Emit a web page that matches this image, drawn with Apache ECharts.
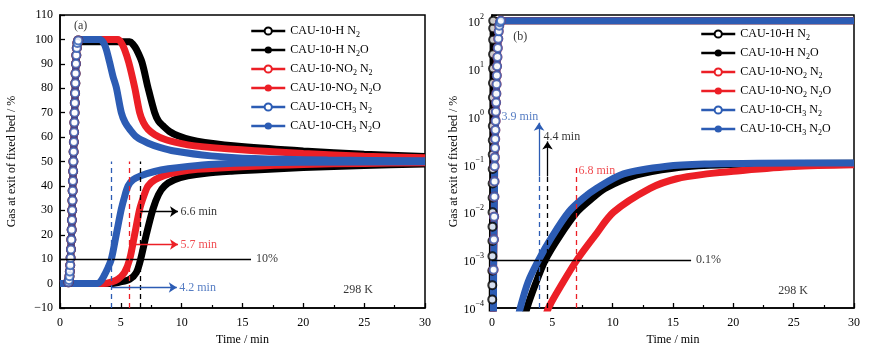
<!DOCTYPE html>
<html>
<head>
<meta charset="utf-8">
<script src="https://cdn.jsdelivr.net/npm/echarts@6/dist/echarts.min.js"></script>
<style>
html, body { margin: 0; padding: 0; background: #fff; }
#chart { width: 871px; height: 357px; }
</style>
</head>
<body>
<div id="chart"></div>
<script>
// series names (subscripts added by the legend formatter)
const names = ['CAU-10-H N2', 'CAU-10-H N2O', 'CAU-10-NO2 N2', 'CAU-10-NO2 N2O', 'CAU-10-CH3 N2', 'CAU-10-CH3 N2O']

// ---- panel (a): linear %, time in min ----
const riseA = [[0.70,0.5],[0.74,1.5],[0.78,3],[0.81,5],[0.84,7.5],[0.87,10.5],[0.9,14],[0.93,18],[0.96,22],[0.98,26],
  [1.0,30],[1.02,34],[1.04,38],[1.06,42],[1.08,46],[1.1,50],[1.12,54],[1.14,58],[1.16,62],[1.18,66],[1.2,70],
  [1.22,74],[1.24,78],[1.26,82],[1.28,86],[1.31,90],[1.34,93.5],[1.38,96.5],[1.43,98.5],[1.5,99.6]]
const hN2a = [[1.6,99],[5.73,99],[6.0,98],[6.27,96],[6.74,90.6],[7.23,80.3],[7.78,70],[8.1,66.5],[8.47,64.6],[9.0,62.3],
  [9.7,60.5],[10.7,58.9],[11.9,57.8],[14.9,56.1],[20,54.3],[25,53],[30,52]]
const no2N2a = [[1.6,100],[4.77,100],[5.05,98.5],[5.3,96],[5.65,90.6],[6.14,80.3],[6.55,70],[6.85,66],[7.23,63.2],[7.8,61],
  [8.6,59.1],[9.8,57.5],[11.07,56.4],[14.9,54.8],[20,53.3],[25,52.2],[30,51.5]]
const ch3N2a = [[1.6,100],[3.3,100],[3.6,98.5],[3.8,96],[4.08,90.6],[4.35,85],[4.63,80.3],[5.04,70],[5.35,66],[5.73,63.2],
  [6.3,60],[7.2,57.6],[8.2,55.8],[9.4,54.3],[12.4,52.3],[16,51.2],[22,50.6],[30,50.3]]
const hN2Oa = [[0,0],[4.2,0],[4.9,0.6],[5.73,1.8],[6.27,4.5],[6.63,10],[7.1,20.2],[7.64,30.5],[8.1,36.5],[8.6,40],
  [9.4,42.5],[10.5,44.1],[12,45.2],[14.1,46],[16,46.5],[20,47.5],[25,48.4],[30,49]]
const no2N2Oa = [[0,0],[3.6,0],[4.2,0.6],[4.77,1.8],[5.3,4.5],[5.73,10],[6.14,20.2],[6.55,30.5],[6.9,36],[7.23,40],
  [7.8,42.5],[8.6,44.3],[9.8,45.8],[11.3,46.8],[15.4,48],[20,48.8],[25,49.2],[30,49.5]]
const ch3N2Oa = [[0,0],[3.1,0],[3.35,1],[3.6,3],[3.9,6],[4.22,10],[4.63,20.2],[5.04,30.5],[5.3,35.5],[5.6,40],
  [6.0,42.5],[6.7,44.3],[7.7,45.8],[8.9,47],[10.5,48],[12.7,48.9],[16,49.5],[20,49.7],[30,49.9]]
const breakA = [6.6, 5.7, 4.2]   // H, NO2, CH3

// ---- panel (b): values on the log axis ----
const riseB = [[0.13,0.00063],[0.16,0.0027],[0.18,0.0081],[0.2,0.021],[0.21,0.044],[0.22,0.091],[0.235,0.14],[0.25,0.22],
  [0.265,0.34],[0.28,0.52],[0.3,0.81],[0.32,1.26],[0.34,1.95],[0.36,3.0],[0.38,4.7],[0.4,7.2],[0.42,11.2],[0.45,17.4],
  [0.48,27],[0.52,42],[0.56,60],[0.6,79],[0.66,93],[0.74,100]]
const riseHB = [[0.02,0.00015],[0.024,0.0003],[0.028,0.0006],[0.032,0.0012],[0.036,0.0025],[0.04,0.005],[0.044,0.01],
  [0.048,0.02],[0.052,0.04],[0.056,0.08],[0.06,0.16],[0.064,0.32],[0.068,0.63],[0.072,1.26],[0.076,2.5],[0.08,5],
  [0.084,10],[0.088,20],[0.092,40],[0.096,70],[0.1,100]]
const hN2b = [[0.015,0.00001],[0.1,100],[30,100]]
const no2N2b = [[0.12,0.00001],[0.13,0.00063],[0.74,100],[30,100]]
const ch3N2b = [[0.12,0.00001],[0.13,0.00063],[0.74,100],[30,100]]
const hN2Ob = [[2.5,0.00004],[2.9,0.0001],[3.6,0.000316],[4.41,0.001],[5.6,0.00316],[7.03,0.01],[8.2,0.0186],[9.37,0.0316],
  [12,0.0603],[15,0.0832],[18,0.0955],[22,0.102],[30,0.106]]
const no2N2Ob = [[4.3,0.00005],[4.68,0.0001],[5.8,0.000316],[7.03,0.001],[8.5,0.00316],[10.06,0.01],[13.1,0.0316],
  [15.3,0.0501],[18,0.064],[20,0.072],[25,0.09],[30,0.0977]]
const ch3N2Ob = [[2.0,0.00004],[2.34,0.0001],[3.0,0.000355],[3.86,0.001],[5.0,0.00316],[6.34,0.01],[7.5,0.0191],
  [8.68,0.0316],[10.9,0.0631],[14.5,0.0912],[18,0.102],[22,0.106],[30,0.107]]
const breakB = [4.6, 7.0, 3.9]   // dashed line positions, H, NO2, CH3
const breakLabelB = ['4.4 min', '6.8 min', '3.9 min']
const logTicks = [-4, -3, -2, -1, 0, 1, 2]

const FONT = 'Liberation Serif'
const BLACK = '#000000', RED = '#ec1f26', BLUE = '#2c5cb4'
const colors = [BLACK, RED, BLUE]

const lg = d => [d[0], Math.log10(d[1])]

// thick band = the densely packed markers of the original
function curve(name, color, gi, data, empty) {
  return {
    name, type: 'line', xAxisIndex: gi, yAxisIndex: gi, data,
    smooth: 0.3, showSymbol: false,
    symbol: empty ? 'emptyCircle' : 'circle', symbolSize: 8,
    itemStyle: { color, borderWidth: 1.1 },
    lineStyle: { color, width: 7 },
    emphasis: { disabled: true }, z: 2
  }
}
// the separate open circles on the steep N2 rise
function marks(color, gi, data) {
  return {
    type: 'scatter', xAxisIndex: gi, yAxisIndex: gi, data,
    symbol: 'emptyCircle', symbolSize: 8,
    itemStyle: { color, borderWidth: 1.1 }, silent: true, z: 3
  }
}

const series = []
const n2A = [hN2a, no2N2a, ch3N2a], n2OA = [hN2Oa, no2N2Oa, ch3N2Oa]
for (let i = 0; i < 3; i++) {
  series.push(curve(names[2*i], colors[i], 0, [[0,0]].concat(riseA, n2A[i]), true))
  series.push(curve(names[2*i+1], colors[i], 0, n2OA[i], false))
}
const n2B = [hN2b, no2N2b, ch3N2b], n2OB = [hN2Ob, no2N2Ob, ch3N2Ob]
const riseBs = [riseHB, riseB, riseB]
for (let i = 0; i < 3; i++) {
  const band = n2B[i].slice(0, -2).concat(riseBs[i], n2B[i].slice(-1))
  series.push(curve(names[2*i], colors[i], 1, band.map(lg), true))
  series.push(curve(names[2*i+1], colors[i], 1, n2OB[i].map(lg), false))
}
for (let i = 0; i < 3; i++) {
  series.push(marks(colors[i], 0, riseA))
  series.push(marks(colors[i], 1, riseBs[i].map(lg)))
}

// annotation lines
function seg(a, b, color, type, arrow) {
  return [{ coord: a, symbol: 'none', lineStyle: { color, type, width: 1.3 } },
          { coord: b, symbol: arrow ? 'arrow' : 'none' }]
}
const linesA = [seg([0,10],[15.7,10], BLACK, 'solid')]
const arrowYA = [29.5, 16, -1.6], arrowEndA = [9.7, 9.7, 9.6]
breakA.forEach((t, i) => {
  linesA.push(seg([t,-10],[t,50], colors[i], [5,4]))
  linesA.push(seg([t,arrowYA[i]],[arrowEndA[i],arrowYA[i]], colors[i], 'solid', true))
})
const linesB = [seg([0,-3],[16.5,-3], BLACK, 'solid')]
const dashTopB = [-1.25, -1.05, -1.25], arrowTopB = [-0.52, null, -0.13]
breakB.forEach((t, i) => {
  linesB.push(seg([t,-4],[t,dashTopB[i]], colors[i], [5,4]))
  if (arrowTopB[i] !== null) linesB.push(seg([t,dashTopB[i]],[t,arrowTopB[i]], colors[i], 'solid', true))
})
function lineLayer(gi, data) {
  return { type: 'line', xAxisIndex: gi, yAxisIndex: gi, data: [], z: 5, silent: true,
    markLine: { silent: true, animation: false, symbolSize: 8, label: { show: false }, data } }
}
series.push(lineLayer(0, linesA), lineLayer(1, linesB))

// annotation texts
function txt(pos, text, color, align) {
  return { value: pos, label: { show: true, formatter: text, color, align } }
}
const textsA = [
  txt([1.7,105.6], '(a)', BLACK, 'center'),
  txt([16.1,10], '10%', BLACK, 'left'),
  txt([24.5,-2.6], '298 K', BLACK, 'center'),
  txt([9.9,29.5], breakA[0] + ' min', BLACK, 'left'),
  txt([9.9,16], breakA[1] + ' min', RED, 'left'),
  txt([9.8,-1.6], breakA[2] + ' min', BLUE, 'left')
]
const textsB = [
  txt([2.34,Math.log10(47)], '(b)', BLACK, 'center'),
  txt([16.9,-3], '0.1%', BLACK, 'left'),
  txt([24.95,Math.log10(0.00023)], '298 K', BLACK, 'center'),
  txt([4.27,Math.log10(0.38)], breakLabelB[0], BLACK, 'left'),
  txt([7.17,Math.log10(0.074)], breakLabelB[1], RED, 'left'),
  txt([3.83,0], breakLabelB[2], BLUE, 'right')
]
function textLayer(gi, data) {
  return { type: 'scatter', xAxisIndex: gi, yAxisIndex: gi, symbolSize: 0, z: 6, silent: true, data,
    label: { show: true, position: 'inside', verticalAlign: 'middle', fontFamily: FONT, fontSize: 12 } }
}
series.push(textLayer(0, textsA), textLayer(1, textsB))

const chart = echarts.init(document.getElementById('chart'))

const axisBase = {
  nameTextStyle: { fontFamily: FONT, fontSize: 12, color: '#000' },
  axisLine: { onZero: false, lineStyle: { color: '#000', width: 1.5 } },
  axisTick: { inside: true, length: 5, lineStyle: { color: '#000', width: 1.3 } },
  axisLabel: { fontFamily: FONT, fontSize: 12, color: '#000' },
  splitLine: { show: false }
}
function xAx(gi) {
  return Object.assign({}, axisBase, {
    type: 'value', gridIndex: gi, min: 0, max: 30, interval: 5,
    name: 'Time / min', nameLocation: 'middle', nameGap: 21,
    minorTick: { show: true, splitNumber: 2, length: 3, lineStyle: { color: '#000', width: 1.2 } },
    axisLabel: Object.assign({}, axisBase.axisLabel, { margin: 9 })
  })
}
const yName = 'Gas at exit of fixed bed / %'

const legendRich = { s: { fontFamily: FONT, fontSize: 8, color: '#000', verticalAlign: 'bottom', padding: [7, 0, 0, 0] } }
function legendAt(left, top) {
  return {
    orient: 'vertical', left, top, padding: 0, itemGap: 5.5, itemWidth: 34, itemHeight: 9,
    data: names, selectedMode: false,
    lineStyle: { width: 2.5 },
    formatter: n => n.replace(/([A-Z])(\d)/g, '$1{s|$2}'),
    textStyle: { fontFamily: FONT, fontSize: 12, color: '#000', rich: legendRich }
  }
}

chart.setOption({
  animation: false,
  backgroundColor: '#fff',
  grid: [
    { left: 60, top: 15, width: 365, height: 293, show: true, borderColor: '#000', borderWidth: 1.5 },
    { left: 492, top: 15, width: 362, height: 293, show: true, borderColor: '#000', borderWidth: 1.5 }
  ],
  legend: [legendAt(250, 25), legendAt(700, 28)],
  xAxis: [xAx(0), xAx(1)],
  yAxis: [
    Object.assign({}, axisBase, {
      type: 'value', gridIndex: 0, min: -10, max: 110, interval: 10,
      name: yName, nameLocation: 'middle', nameGap: 42,
      axisLabel: Object.assign({}, axisBase.axisLabel, { margin: 7, formatter: v => v < 0 ? '\u2212' + (-v) : String(v) })
    }),
    Object.assign({}, axisBase, {
      type: 'value', gridIndex: 1, min: logTicks[0], max: 2.12, interval: 1,
      name: yName, nameLocation: 'middle', nameGap: 31,
      axisLabel: {
        margin: 8,
        formatter: v => logTicks.includes(v) ? '{b|10}{s|' + (v < 0 ? '\u2212' + (-v) : v) + '}' : '',
        rich: {
          b: { fontFamily: FONT, fontSize: 12, color: '#000', lineHeight: 16, verticalAlign: 'bottom' },
          s: { fontFamily: FONT, fontSize: 8, color: '#000', lineHeight: 16, verticalAlign: 'top' }
        }
      }
    })
  ],
  series
})
window.addEventListener('resize', () => chart.resize())
</script>
</body>
</html>
